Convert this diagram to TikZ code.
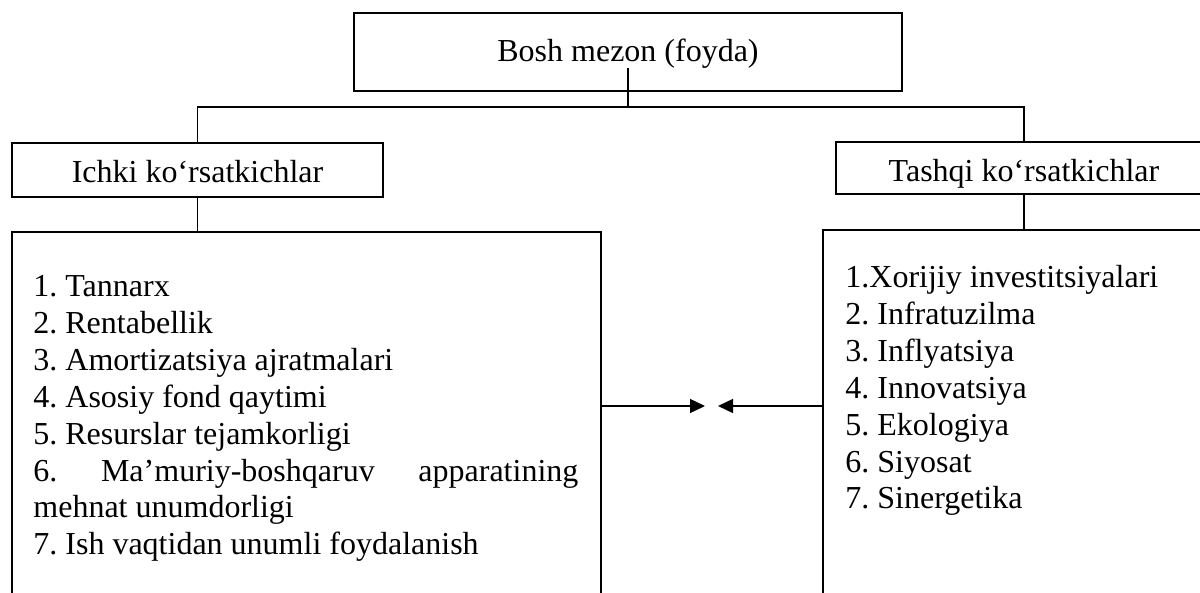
\documentclass[tikz,border=0pt]{standalone}
\usepackage{fontspec}
\setmainfont{Liberation Serif}
\usetikzlibrary{arrows.meta}

\tikzset{
  box/.style={draw,line width=1pt,inner sep=0pt,text depth=0pt,font=\fontsize{16}{18.4}\selectfont},
  item/.style={anchor=base west,inner sep=0pt,font=\fontsize{16}{18.4}\selectfont\frenchspacing},
  link/.style={line width=0.7pt},
  pointer/.style={line width=0.7pt,-{Triangle[length=7.5pt,width=7pt]}}
}

\begin{document}
\begin{tikzpicture}[x=0.5pt,y=-0.5pt]
\clip (0,0) rectangle (1200,593);
% boxes
\node[box,minimum width=274pt,minimum height=39pt,text height=10pt] (mezon) at (628,52) {Bosh mezon (foyda)};
\node[box,minimum width=185.5pt,minimum height=27pt,text height=13pt] (ichki) at (197.5,170) {Ichki ko‘rsatkichlar};
\node[box,minimum width=188pt,minimum height=26pt,text height=14pt] (tashqi) at (1024,168) {Tashqi ko‘rsatkichlar};
\node[box,minimum width=294.5pt,minimum height=204pt] (ichkilar) at (306.5,436) {};
\node[box,minimum width=213.5pt,minimum height=205pt] (tashqilar) at (1036.5,435) {};
% tree lines
\coordinate (split) at (627,107);
\draw[link] ([yshift=12pt]mezon.south) -- (mezon.south |- split);
\draw[link] (ichki.north) -- (ichki.north |- split) -- (tashqi.north |- split) -- (tashqi.north);
\draw[link] (ichki.south) -- (ichki.south |- ichkilar.north);
\draw[link] (tashqi.south) -- (tashqi.south |- tashqilar.north);
% arrows
\coordinate (meetl) at (705,406);
\coordinate (meetr) at (718,406);
\draw[pointer] (ichkilar.east |- meetl) -- (meetl);
\draw[pointer] (tashqilar.west |- meetr) -- (meetr);
% lists
\foreach \txt [count=\i] in {1. Tannarx, 2. Rentabellik, 3. Amortizatsiya ajratmalari,
  4. Asosiy fond qaytimi, 5. Resurslar tejamkorligi,
  {\hbox to 272.5pt{6.\hfill Ma’muriy-boshqaruv\hfill apparatining}},
  mehnat unumdorligi, 7. Ish vaqtidan unumli foydalanish}
  \node[item] (ich\i) at (33,{297+36.8*(\i-1)}) {\txt};
\foreach \txt [count=\i] in {1.Xorijiy investitsiyalari, 2. Infratuzilma, 3. Inflyatsiya,
  4. Innovatsiya, 5. Ekologiya, 6. Siyosat, 7. Sinergetika}
  \node[item] (tash\i) at (845,{288+36.8*(\i-1)}) {\txt};
\end{tikzpicture}
\end{document}
